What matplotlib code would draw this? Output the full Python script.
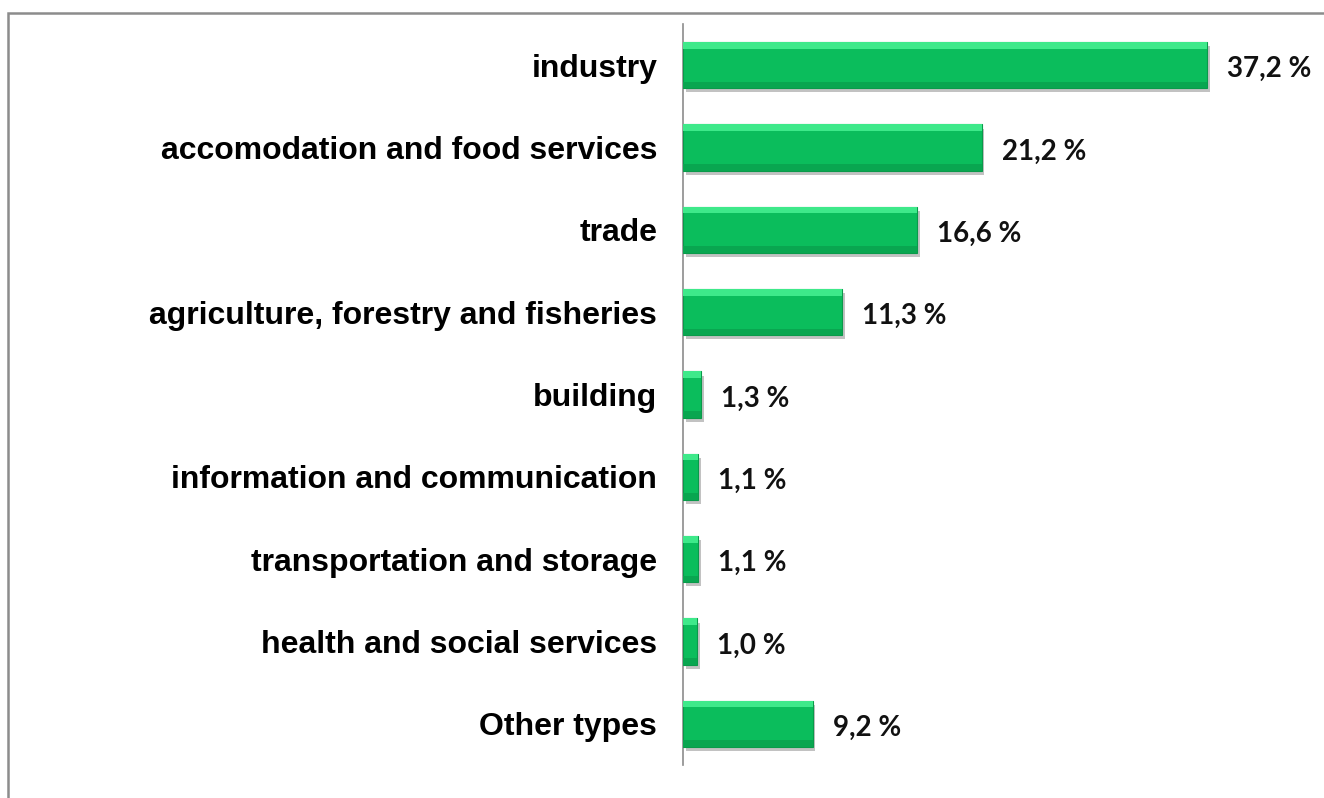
import matplotlib.pyplot as plt
import matplotlib.patheffects as pe
from matplotlib.patches import Rectangle

categories = ['industry', 'accomodation and food services', 'trade',
              'agriculture, forestry and fisheries', 'building',
              'information and communication', 'transportation and storage',
              'health and social services', 'Other types']
shares = [37.2, 21.2, 16.6, 11.3, 1.3, 1.1, 1.1, 1.0, 9.2]
value_labels = ['37,2 %', '21,2 %', '16,6 %', '11,3 %', '1,3 %',
                '1,1 %', '1,1 %', '1,0 %', '9,2 %']

W, H = 1324, 798
fig = plt.figure(figsize=(W / 100, H / 100), dpi=100)
ax = fig.add_axes([683 / W, 1 - 765 / H, 563.6 / W, (765 - 24) / H])

# outer frame (only top and left visible)
fig.patches.append(Rectangle((8 / W, -0.1), 1.2, 1.1 - 13 / H,
                             transform=fig.transFigure, fill=False,
                             edgecolor='#8c8c8c', linewidth=1.8))

ypos = list(range(len(categories)))
bh = 0.56
main = ax.barh(ypos, shares, height=bh, color='#0bbd5c',
               edgecolor='#0a9a4a', linewidth=0.8, zorder=3)
for b in main:
    b.set_path_effects([pe.SimplePatchShadow(offset=(2, -3), shadow_rgbFace='#9a9a9a',
                                             alpha=0.6), pe.Normal()])
# bevel highlight on top edge and darker strip on bottom
ax.barh([y - bh / 2 + 0.04 for y in ypos], shares, height=0.08,
        color='#3ee98a', linewidth=0, zorder=4)
ax.barh([y + bh / 2 - 0.04 for y in ypos], shares, height=0.08,
        color='#09a650', linewidth=0, zorder=4)

for y, v, t in zip(ypos, shares, value_labels):
    ax.annotate(t, (v, y), xytext=(20, -4), textcoords='offset pixels',
                ha='left', va='center', fontsize=20, fontweight='bold',
                family='Lato', color='#111111')

ax.set_xlim(0, 40)
ax.set_ylim(8.5, -0.5)
ax.set_yticks(ypos)
ax.set_yticklabels(categories, fontsize=23, fontweight='bold',
                   family='Liberation Sans')
ax.tick_params(axis='y', length=0, pad=18.5)
ax.set_xticks([])
for s in ['top', 'right', 'bottom']:
    ax.spines[s].set_visible(False)
ax.spines['left'].set_color('#8c8c8c')
ax.spines['left'].set_linewidth(1.2)

fig.savefig('out.png', dpi=100)
